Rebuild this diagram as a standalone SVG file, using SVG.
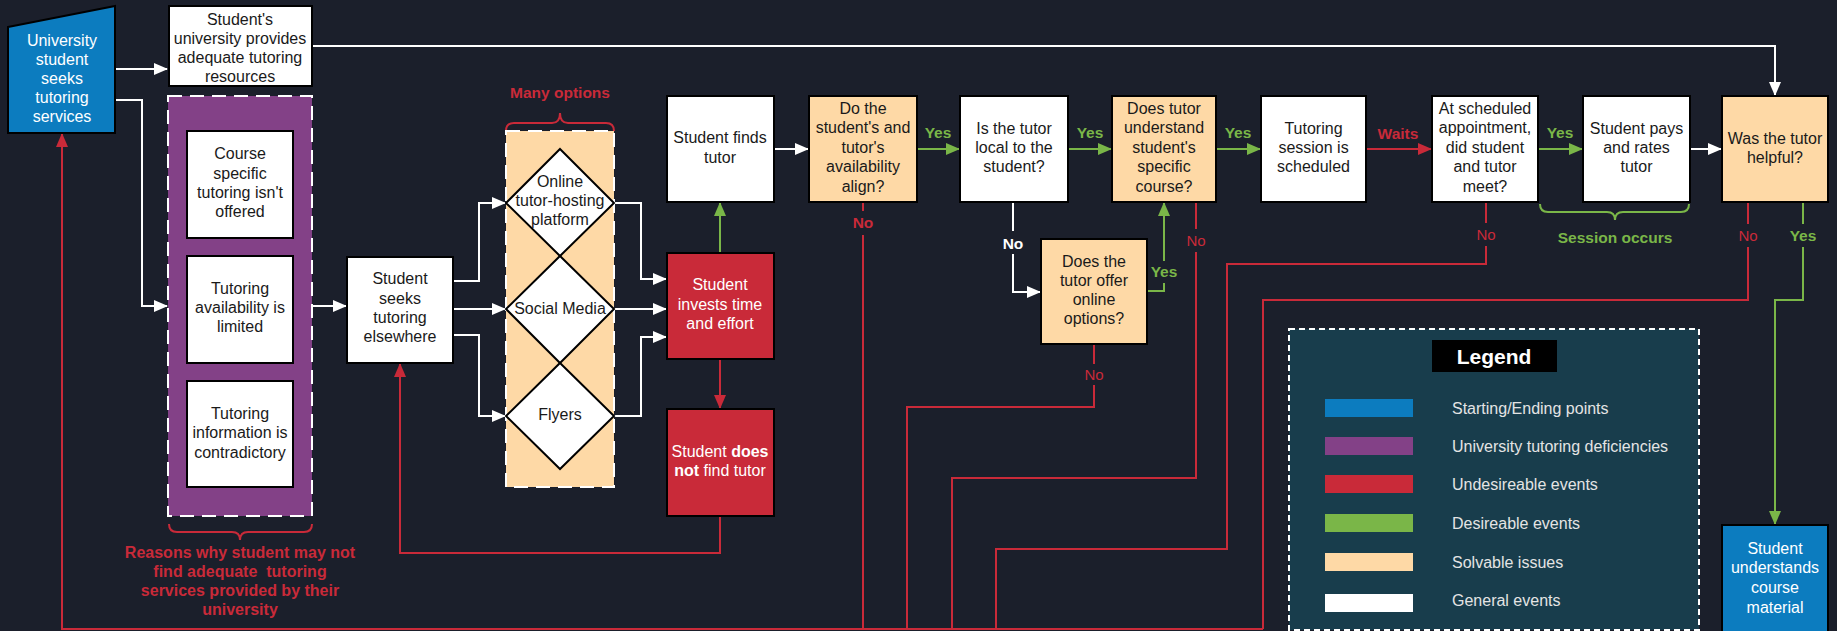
<svg xmlns="http://www.w3.org/2000/svg" width="1837" height="631" viewBox="0 0 1837 631">
<style>
text{font-family:"Liberation Sans",Arial,sans-serif;text-anchor:middle}
.t{font-size:16px;fill:#1a1a1a}
.tw{font-size:16px;fill:#ffffff}
.lbl{font-size:15.5px;font-weight:bold}
.g{fill:#7ab648}
.r{fill:#c92a39}
.no{font-size:15px;fill:#c92a39}
.box{stroke:#000;stroke-width:2}
.wl{fill:none;stroke:#fff;stroke-width:2}
.gl{fill:none;stroke:#7ab648;stroke-width:2}
.rl{fill:none;stroke:#c92a39;stroke-width:2}
.lg{font-size:16px;fill:#e4e4e4;text-anchor:start}
</style>
<defs>
<marker id="aw" viewBox="0 0 14 12" refX="13" refY="6" markerWidth="14" markerHeight="12" orient="auto" markerUnits="userSpaceOnUse"><path d="M0,0 L14,6 L0,12 z" fill="#fff"/></marker>
<marker id="ag" viewBox="0 0 14 12" refX="13" refY="6" markerWidth="14" markerHeight="12" orient="auto" markerUnits="userSpaceOnUse"><path d="M0,0 L14,6 L0,12 z" fill="#7ab648"/></marker>
<marker id="ar" viewBox="0 0 14 12" refX="13" refY="6" markerWidth="14" markerHeight="12" orient="auto" markerUnits="userSpaceOnUse"><path d="M0,0 L14,6 L0,12 z" fill="#c92a39"/></marker>
</defs>
<rect width="1837" height="631" fill="#1b1f2b"/>

<!-- Legend -->
<g id="legend">
<rect x="1289" y="329" width="410" height="301" fill="#183d4c" stroke="#fff" stroke-width="2" stroke-dasharray="6 4"/>
<rect x="1432" y="340" width="125" height="32" fill="#000"/>
<text x="1494" y="364" style="font-size:21px;font-weight:bold;fill:#fff">Legend</text>
<rect x="1325" y="399" width="88" height="18" fill="#0c7cbf"/>
<rect x="1325" y="437" width="88" height="18" fill="#834187"/>
<rect x="1325" y="475" width="88" height="18" fill="#c92a39"/>
<rect x="1325" y="514" width="88" height="18" fill="#7ab648"/>
<rect x="1325" y="553" width="88" height="18" fill="#fed9a6"/>
<rect x="1325" y="594" width="88" height="18" fill="#ffffff"/>
<text class="lg" x="1452" y="414">Starting/Ending points</text>
<text class="lg" x="1452" y="452">University tutoring deficiencies</text>
<text class="lg" x="1452" y="490">Undesireable events</text>
<text class="lg" x="1452" y="529">Desireable events</text>
<text class="lg" x="1452" y="568">Solvable issues</text>
<text class="lg" x="1452" y="606">General events</text>
</g>

<!-- Connectors -->
<g id="connectors">
<path class="wl" d="M115,69 H167" marker-end="url(#aw)"/>
<path class="wl" d="M115,100 H142 V306 H167" marker-end="url(#aw)"/>
<path class="wl" d="M312,46 H1775 V95" marker-end="url(#aw)"/>
<path class="wl" d="M312,306 H346" marker-end="url(#aw)"/>
<path class="wl" d="M453,281 H479 V203 H505" marker-end="url(#aw)"/>
<path class="wl" d="M453,309 H505" marker-end="url(#aw)"/>
<path class="wl" d="M453,335 H479 V416 H505" marker-end="url(#aw)"/>
<path class="wl" d="M614,203 H641 V279 H666" marker-end="url(#aw)"/>
<path class="wl" d="M614,309 H666" marker-end="url(#aw)"/>
<path class="wl" d="M614,416 H641 V337 H666" marker-end="url(#aw)"/>
<path class="wl" d="M774,149 H808" marker-end="url(#aw)"/>
<path class="wl" d="M1013,202 V231 M1013,254 V292 H1040" marker-end="url(#aw)"/>
<path class="wl" d="M1690,149 H1721" marker-end="url(#aw)"/>

<path class="gl" d="M720,253 V203" marker-end="url(#ag)"/>
<path class="gl" d="M917,149 H959" marker-end="url(#ag)"/>
<path class="gl" d="M1068,149 H1111" marker-end="url(#ag)"/>
<path class="gl" d="M1216,149 H1260" marker-end="url(#ag)"/>
<path class="gl" d="M1538,149 H1582" marker-end="url(#ag)"/>
<path class="gl" d="M1147,291 H1164 V283 M1164,261 V203" marker-end="url(#ag)"/>
<path class="gl" d="M1803,202 V224 M1803,247 V300 H1775 V524" marker-end="url(#ag)"/>

<path class="rl" d="M720,359 V408" marker-end="url(#ar)"/>
<path class="rl" d="M720,516 V553 H400 V364" marker-end="url(#ar)"/>
<path class="rl" d="M1366,149 H1431" marker-end="url(#ar)"/>
<path class="rl" d="M863,202 V211 M863,235 V629"/>
<path class="rl" d="M1094,344 V364 M1094,385 V407 H907 V629"/>
<path class="rl" d="M1196,202 V229 M1196,252 V478 H952 V629"/>
<path class="rl" d="M1486,202 V223 M1486,246 V264 H1227 V549 H996 V629"/>
<path class="rl" d="M1748,202 V224 M1748,247 V300 H1263 V629"/>
<path class="rl" d="M1263,629 H62 V134" marker-end="url(#ar)"/>

<path class="rl" d="M169,524 q0,8 8,8 H232 q8,0 8,8 q0,-8 8,-8 H304 q8,0 8,-8"/>
<path class="rl" d="M506,131 q0,-8 8,-8 H552 q8,0 8,-10 q0,10 8,10 H606 q8,0 8,8"/>
<path class="gl" d="M1540,204 q0,8 8,8 H1607 q8,0 8,8 q0,-8 8,-8 H1681 q8,0 8,-8"/>

<text class="lbl g" x="938" y="138">Yes</text>
<text class="lbl g" x="1090" y="138">Yes</text>
<text class="lbl g" x="1238" y="138">Yes</text>
<text class="lbl g" x="1560" y="138">Yes</text>
<text class="lbl r" x="1398" y="139">Waits</text>
<text class="lbl g" x="1164" y="277">Yes</text>
<text class="lbl g" x="1803" y="241">Yes</text>
<text class="lbl r" x="863" y="228">No</text>
<text class="lbl" x="1013" y="249" style="fill:#fff">No</text>
<text class="no" x="1196" y="246">No</text>
<text class="no" x="1094" y="380">No</text>
<text class="no" x="1486" y="240">No</text>
<text class="no" x="1748" y="241">No</text>
<text class="lbl r" x="560" y="98">Many options</text>
<text class="lbl g" x="1615" y="243">Session occurs</text>
<text class="r" style="font-size:16px;font-weight:bold" x="240" y="558">Reasons why student may not</text>
<text class="r" style="font-size:16px;font-weight:bold;white-space:pre" x="240" y="577" xml:space="preserve">find adequate  tutoring</text>
<text class="r" style="font-size:16px;font-weight:bold" x="240" y="596">services provided by their</text>
<text class="r" style="font-size:16px;font-weight:bold" x="240" y="615">university</text>
</g>

<!-- Nodes -->
<g id="start">
<polygon class="box" points="8,27 115,6 115,133 8,133" fill="#0c7cbf"/>
<text class="tw" x="62" y="46">University</text>
<text class="tw" x="62" y="65">student</text>
<text class="tw" x="62" y="84">seeks</text>
<text class="tw" x="62" y="103">tutoring</text>
<text class="tw" x="62" y="122">services</text>
</g>
<g id="uni-provides">
<rect class="box" x="169" y="6" width="143" height="80" fill="#fff"/>
<text class="t" x="240" y="25">Student's</text>
<text class="t" x="240" y="44">university provides</text>
<text class="t" x="240" y="63">adequate tutoring</text>
<text class="t" x="240" y="82">resources</text>
</g>
<g id="deficiencies">
<rect x="168" y="96" width="144" height="420" fill="#834187" stroke="#fff" stroke-width="2" stroke-dasharray="14 8"/>
<g id="course-specific">
<rect class="box" x="187" y="131" width="106" height="107" fill="#fff"/>
<text class="t" x="240" y="159">Course</text>
<text class="t" x="240" y="179">specific</text>
<text class="t" x="240" y="198">tutoring isn't</text>
<text class="t" x="240" y="217">offered</text>
</g>
<g id="availability-limited">
<rect class="box" x="187" y="256" width="106" height="107" fill="#fff"/>
<text class="t" x="240" y="294">Tutoring</text>
<text class="t" x="240" y="313">availability is</text>
<text class="t" x="240" y="332">limited</text>
</g>
<g id="contradictory">
<rect class="box" x="187" y="381" width="106" height="106" fill="#fff"/>
<text class="t" x="240" y="419">Tutoring</text>
<text class="t" x="240" y="438">information is</text>
<text class="t" x="240" y="458">contradictory</text>
</g>
</g>
<g id="elsewhere">
<rect class="box" x="347" y="257" width="106" height="106" fill="#fff"/>
<text class="t" x="400" y="284">Student</text>
<text class="t" x="400" y="304">seeks</text>
<text class="t" x="400" y="323">tutoring</text>
<text class="t" x="400" y="342">elsewhere</text>
</g>
<g id="options">
<rect x="506" y="131" width="108" height="356" fill="#fed9a6" stroke="#fff" stroke-width="2" stroke-dasharray="14 8"/>
<g id="online-platform">
<polygon class="box" points="560,149 614,203 560,256 506,203" fill="#fff"/>
<text class="t" x="560" y="187">Online</text>
<text class="t" x="560" y="206">tutor-hosting</text>
<text class="t" x="560" y="225">platform</text>
</g>
<g id="social-media">
<polygon class="box" points="560,256 614,309 560,363 506,309" fill="#fff"/>
<text class="t" x="560" y="314">Social Media</text>
</g>
<g id="flyers">
<polygon class="box" points="560,363 614,416 560,469 506,416" fill="#fff"/>
<text class="t" x="560" y="420">Flyers</text>
</g>
</g>
<g id="invests">
<rect class="box" x="667" y="253" width="107" height="106" fill="#c92a39"/>
<text class="tw" x="720" y="290">Student</text>
<text class="tw" x="720" y="310">invests time</text>
<text class="tw" x="720" y="329">and effort</text>
</g>
<g id="not-find">
<rect class="box" x="667" y="409" width="107" height="107" fill="#c92a39"/>
<text class="tw" x="720" y="457">Student <tspan font-weight="bold">does</tspan></text>
<text class="tw" x="720" y="476"><tspan font-weight="bold">not</tspan> find tutor</text>
</g>
<g id="finds">
<rect class="box" x="667" y="96" width="107" height="106" fill="#fff"/>
<text class="t" x="720" y="143">Student finds</text>
<text class="t" x="720" y="163">tutor</text>
</g>
<g id="availability-align">
<rect class="box" x="809" y="96" width="108" height="106" fill="#fed9a6"/>
<text class="t" x="863" y="114">Do the</text>
<text class="t" x="863" y="133">student's and</text>
<text class="t" x="863" y="153">tutor's</text>
<text class="t" x="863" y="172">availability</text>
<text class="t" x="863" y="192">align?</text>
</g>
<g id="local">
<rect class="box" x="960" y="96" width="108" height="106" fill="#fff"/>
<text class="t" x="1014" y="134">Is the tutor</text>
<text class="t" x="1014" y="153">local to the</text>
<text class="t" x="1014" y="172">student?</text>
</g>
<g id="online-options">
<rect class="box" x="1041" y="239" width="106" height="105" fill="#fed9a6"/>
<text class="t" x="1094" y="267">Does the</text>
<text class="t" x="1094" y="286">tutor offer</text>
<text class="t" x="1094" y="305">online</text>
<text class="t" x="1094" y="324">options?</text>
</g>
<g id="understand">
<rect class="box" x="1112" y="96" width="104" height="106" fill="#fed9a6"/>
<text class="t" x="1164" y="114">Does tutor</text>
<text class="t" x="1164" y="133">understand</text>
<text class="t" x="1164" y="153">student's</text>
<text class="t" x="1164" y="172">specific</text>
<text class="t" x="1164" y="192">course?</text>
</g>
<g id="scheduled">
<rect class="box" x="1261" y="96" width="105" height="106" fill="#fff"/>
<text class="t" x="1313.5" y="134">Tutoring</text>
<text class="t" x="1313.5" y="153">session is</text>
<text class="t" x="1313.5" y="172">scheduled</text>
</g>
<g id="meet">
<rect class="box" x="1432" y="96" width="106" height="106" fill="#fff"/>
<text class="t" x="1485" y="114">At scheduled</text>
<text class="t" x="1485" y="133">appointment,</text>
<text class="t" x="1485" y="153">did student</text>
<text class="t" x="1485" y="172">and tutor</text>
<text class="t" x="1485" y="192">meet?</text>
</g>
<g id="pays">
<rect class="box" x="1583" y="96" width="107" height="106" fill="#fff"/>
<text class="t" x="1636.5" y="134">Student pays</text>
<text class="t" x="1636.5" y="153">and rates</text>
<text class="t" x="1636.5" y="172">tutor</text>
</g>
<g id="helpful">
<rect class="box" x="1722" y="96" width="106" height="106" fill="#fed9a6"/>
<text class="t" x="1775" y="144">Was the tutor</text>
<text class="t" x="1775" y="163">helpful?</text>
</g>
<g id="understands">
<rect class="box" x="1722" y="525" width="106" height="120" fill="#0c7cbf"/>
<text class="tw" x="1775" y="554">Student</text>
<text class="tw" x="1775" y="573">understands</text>
<text class="tw" x="1775" y="593">course</text>
<text class="tw" x="1775" y="613">material</text>
</g>
</svg>
